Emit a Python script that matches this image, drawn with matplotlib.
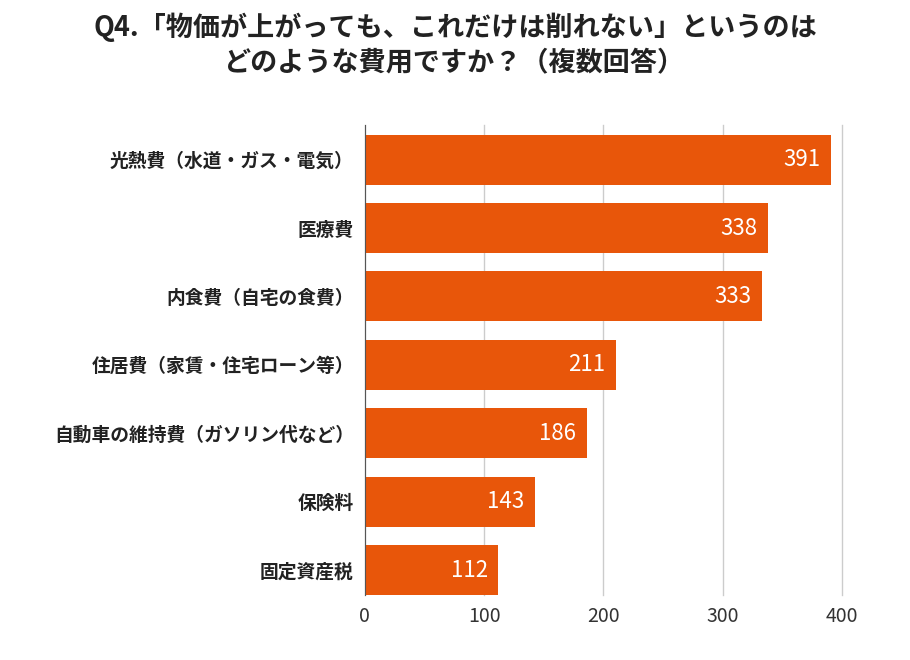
import matplotlib.pyplot as plt

plt.rcParams['font.family'] = 'Noto Sans CJK JP'

categories = ['光熱費（水道・ガス・電気）', '医療費', '内食費（自宅の食費）',
              '住居費（家賃・住宅ローン等）', '自動車の維持費（ガソリン代など）',
              '保険料', '固定資産税']
values = [391, 338, 333, 211, 186, 143, 112]
xticks = [0, 100, 200, 300, 400]

fig = plt.figure(figsize=(9.1, 6.6), dpi=100)
ax = fig.add_axes([0.401, 0.098, 0.524, 0.713])

pos = list(range(len(categories)))
ax.barh(pos, values, height=0.73, color='#E8560A', zorder=3)
for p, v in zip(pos, values):
    ax.text(v - 9, p, str(v), color='white', fontsize=16,
            ha='right', va='center', zorder=4)

ax.set_ylim(6.37, -0.51)
ax.set_xlim(0, 400)
ax.set_yticks(pos)
ax.set_yticklabels(categories, fontsize=13.5, fontweight='bold', color='#222222')
ax.set_xticks(xticks)
ax.tick_params(axis='x', labelsize=14, length=0, pad=8, colors='#333333')
ax.tick_params(axis='y', length=0, pad=8)
ax.grid(axis='x', color='#cccccc', linewidth=1, zorder=0)
for gl in ax.get_xgridlines():
    gl.set_clip_on(False)
for s in ['top', 'right', 'bottom']:
    ax.spines[s].set_visible(False)
ax.spines['left'].set_color('#555555')
ax.spines['left'].set_zorder(5)

fig.text(0.5, 0.932, 'Q4.「物価が上がっても、これだけは削れない」というのは\nどのような費用ですか？（複数回答）',
         ha='center', va='center', fontsize=19.5, fontweight='bold',
         color='#222222', linespacing=1.3)

fig.savefig('out.png', dpi=100)
